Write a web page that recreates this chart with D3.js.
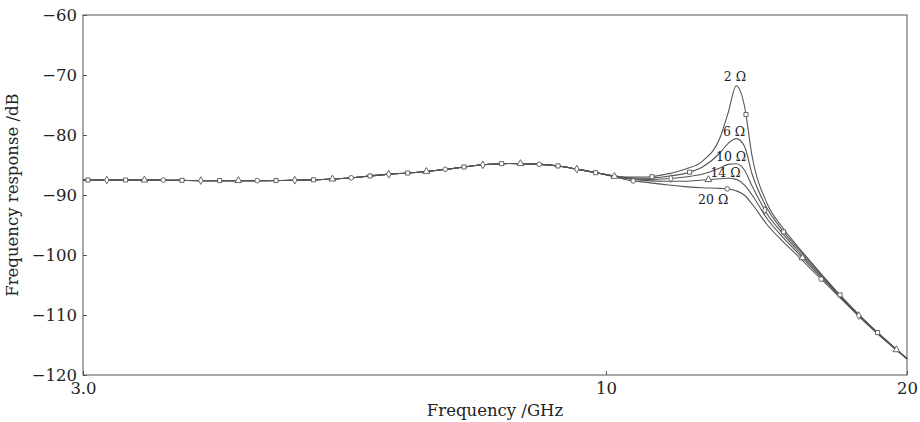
<!DOCTYPE html>
<meta charset="utf-8">
<style>
body { margin: 0; background: #fff; }
text { font-family: "DejaVu Serif", "Liberation Serif", serif; fill: #222; }
.axis-title { font-size: 16.5px; }
.rlabel { font-size: 12.5px; }
.frame { fill: none; stroke: #555; stroke-width: 1; }
.curve { fill: none; stroke: #555; stroke-width: 1.1; }
.marker { fill: #fff; stroke: #555; stroke-width: 0.9; }
</style>
<svg width="920" height="422"></svg>
<script src="https://d3js.org/d3.v7.min.js"></script>
<script>

var svg = d3.select("svg");
var margin = {top: 15, right: 13, bottom: 47, left: 83},
    width = 920 - margin.left - margin.right,
    height = 422 - margin.top - margin.bottom;

// shared part of all curves, 3 - 10 GHz
var baseFreq = [3, 3.5, 4, 4.5, 5, 5.5, 6, 6.5, 7, 7.5, 8, 8.5, 9, 9.5, 10];
var baseDb   = [-87.5, -87.5, -87.6, -87.6, -87.5, -87.2, -86.6, -86.2, -85.6, -85.0, -84.75, -84.85, -85.2, -85.9, -86.6];

// per-resistance part, 10.5 - 20 GHz
var tailFreq = [10.5, 11, 11.5, 12, 12.5, 13, 13.25, 13.5, 13.75, 14, 14.5, 15, 15.5, 16, 17, 18, 19, 20];
var tail2  = [-87.0, -87.0, -86.5, -85.7, -84.3, -80.5, -76.3, -71.8, -75.0, -83.5, -91.5, -95.3, -98.3, -101.0, -106.0, -110.3, -114.0, -117.3];
var tail6  = [-87.1, -87.2, -86.9, -86.4, -85.3, -83.0, -81.4, -80.6, -81.8, -86.5, -92.3, -95.8, -98.6, -101.2, -106.1, -110.4, -114.0, -117.3];
var tail10 = [-87.2, -87.4, -87.3, -87.0, -86.5, -85.5, -84.9, -84.8, -85.8, -88.5, -93.2, -96.3, -99.0, -101.5, -106.2, -110.5, -114.1, -117.3];
var tail14 = [-87.3, -87.6, -87.7, -87.7, -87.5, -87.3, -87.2, -87.4, -88.3, -90.0, -94.0, -96.9, -99.4, -101.8, -106.3, -110.5, -114.1, -117.3];
var tail20 = [-87.5, -87.9, -88.3, -88.6, -88.8, -88.9, -89.0, -89.3, -90.0, -91.5, -95.0, -97.6, -99.9, -102.2, -106.5, -110.6, -114.2, -117.3];

var resNames  = ["2 Ω", "6 Ω", "10 Ω", "14 Ω", "20 Ω"];
var resTails  = [tail2, tail6, tail10, tail14, tail20];
var resShapes = ["square", "square", "diamond", "triangle", "circle"];
var markerOrder = [0, 2, 1, 3, 4];   // which series sits at each slot of the marker cycle
var labelFreq = [13.46, 13.43, 13.34, 13.17, 12.8];
var labelDb   = [-70.95, -80.2, -84.3, -87.0, -91.5];

var yTicks = [-120, -110, -100, -90, -80, -70, -60];
var xTicks = [3, 10, 20];
var xTickLabels = ["3.0", "10", "20"];

var x = d3.scaleLog().domain([3, 20]).range([0, width]);
var y = d3.scaleLinear().domain([-120, -60]).range([height, 0]);

var g = svg.append("g")
    .attr("transform", "translate(" + margin.left + "," + margin.top + ")");

var series = resNames.map(function(name, i) {
  var pts = baseFreq.map(function(f, j) { return {f: f, v: baseDb[j]}; });
  tailFreq.forEach(function(f, j) { pts.push({f: f, v: resTails[i][j]}); });
  return {name: name, shape: resShapes[i], points: pts};
});

var line = d3.line()
    .x(function(d) { return x(d.f); })
    .y(function(d) { return y(d.v); })
    .curve(d3.curveMonotoneX);

var paths = g.selectAll(".curve")
    .data(series)
  .enter().append("path")
    .attr("class", "curve")
    .attr("d", function(d) { return line(d.points); });

// find the point of a path at a given x
function pointAtX(node, px) {
  var total = node.getTotalLength(), lo = 0, hi = total, p;
  for (var k = 0; k < 40; k++) {
    var mid = (lo + hi) / 2;
    p = node.getPointAtLength(mid);
    if (p.x < px) lo = mid; else hi = mid;
  }
  return p;
}

var symbols = {
  square: d3.symbolSquare,
  diamond: d3.symbolDiamond,
  triangle: d3.symbolTriangle,
  circle: d3.symbolCircle
};

var step = 94, slot = step / 5, start = 5;
markerOrder.forEach(function(si, k) {
  var node = paths.nodes()[si];
  var xs = d3.range(start + k * slot, width - 2, step);
  var pts = xs.map(function(px) { return pointAtX(node, px); });
  g.selectAll(".m" + si)
      .data(pts)
    .enter().append("path")
      .attr("class", "marker")
      .attr("transform", function(p) { return "translate(" + p.x + "," + p.y + ")"; })
      .attr("d", d3.symbol().type(symbols[series[si].shape]).size(series[si].shape == "triangle" ? 20 : 17));
});

g.selectAll(".rlabel")
    .data(resNames)
  .enter().append("text")
    .attr("class", "rlabel")
    .attr("text-anchor", "middle")
    .attr("x", function(d, i) { return x(labelFreq[i]); })
    .attr("y", function(d, i) { return y(labelDb[i]); })
    .text(function(d) { return d; });

// axes, ticks pointing inward
var yAxis = g.append("g")
    .call(d3.axisLeft(y).tickValues(yTicks).tickSizeInner(-4).tickSizeOuter(0).tickPadding(6)
      .tickFormat(function(d) { return String(d).replace("-", "\u2212"); }));
var xAxis = g.append("g")
    .attr("transform", "translate(0," + height + ")")
    .call(d3.axisBottom(x).tickValues(xTicks).tickSizeInner(-4).tickSizeOuter(0).tickPadding(7)
      .tickFormat(function(d, i) { return xTickLabels[i]; }));
[yAxis, xAxis].forEach(function(a) {
  a.select(".domain").remove();
  a.selectAll("line").attr("stroke", "#555");
  a.selectAll("text").attr("fill", "#222").style("font-family", "DejaVu Serif, serif").style("font-size", "16.5px");
});

g.append("rect")
    .attr("class", "frame")
    .attr("width", width)
    .attr("height", height);

g.append("text")
    .attr("class", "axis-title")
    .attr("text-anchor", "middle")
    .attr("x", width / 2)
    .attr("y", height + 41)
    .text("Frequency /GHz");

g.append("text")
    .attr("class", "axis-title")
    .attr("text-anchor", "middle")
    .attr("transform", "translate(" + (-65) + "," + (height / 2) + ") rotate(-90)")
    .text("Frequency response /dB");

</script>
